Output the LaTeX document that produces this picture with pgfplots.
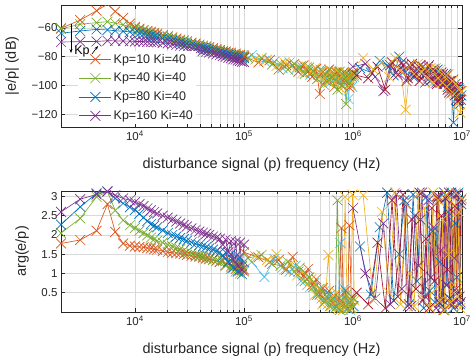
\documentclass[border=0pt]{standalone}
\usepackage{pgfplots}
\pgfplotsset{compat=1.18}
\usepackage{pgfplotstable}
\usepackage{fontspec}
\setmainfont{Liberation Sans}
\usetikzlibrary{arrows.meta}
\definecolor{mblue}{rgb}{0,0.447,0.741}
\definecolor{morange}{rgb}{0.85,0.325,0.098}
\definecolor{myellow}{rgb}{0.929,0.694,0.125}
\definecolor{mpurple}{rgb}{0.494,0.184,0.556}
\definecolor{mgreen}{rgb}{0.466,0.674,0.188}
\definecolor{mlblue}{rgb}{0.301,0.745,0.933}
\definecolor{mdred}{rgb}{0.635,0.078,0.184}

\pgfplotstableread{
f om op gm gp bm bp pm pp
2100 -60.2 1.78 -60.6 2.05 -63.7 2.27 -69.8 2.60
3150 -54.5 1.87 -57.4 2.43 -62.1 2.73 -69.5 2.93
4450 -48.0 2.11 -56.3 2.99 -61.0 3.08 -69.4 3.05
5600 -43.5 2.80 -55.6 3.12 -61.4 3.13 -68.9 3.13
6600 -48.5 2.08 -56.7 2.64 -61.9 2.95 -69.0 3.03
7800 -53.0 1.78 -57.8 2.38 -62.3 2.82 -69.1 2.95
9000 -57.0 1.72 -59.0 2.25 -62.7 2.72 -69.2 2.90
10000 -59.3 1.70 -60.2 2.18 -63.1 2.65 -69.4 2.85
11000 -60.5 1.69 -61.2 2.11 -63.7 2.55 -69.4 2.80
12000 -61.4 1.68 -62.1 2.05 -64.3 2.45 -69.5 2.75
13000 -62.1 1.66 -62.9 1.99 -64.9 2.36 -69.6 2.69
14000 -62.7 1.65 -63.5 1.93 -65.4 2.28 -69.7 2.64
15000 -63.3 1.63 -64.1 1.89 -65.9 2.24 -69.8 2.60
16000 -63.9 1.62 -64.7 1.85 -66.4 2.20 -70.0 2.56
18000 -64.9 1.58 -65.7 1.80 -67.3 2.12 -70.4 2.50
20000 -65.8 1.55 -66.6 1.75 -68.1 2.05 -70.8 2.45
22000 -66.6 1.54 -67.4 1.71 -68.8 2.00 -71.3 2.40
24000 -67.4 1.53 -68.2 1.67 -69.5 1.96 -71.8 2.35
26000 -68.1 1.52 -68.9 1.63 -70.1 1.92 -72.3 2.30
28000 -68.7 1.50 -69.5 1.60 -70.7 1.89 -72.8 2.26
30000 -69.3 1.48 -70.1 1.56 -71.2 1.85 -73.3 2.22
33000 -70.2 1.46 -71.0 1.52 -72.0 1.81 -74.0 2.17
36000 -70.9 1.44 -71.7 1.49 -72.7 1.77 -74.7 2.13
39000 -71.6 1.43 -72.4 1.46 -73.4 1.74 -75.3 2.09
42000 -72.3 1.41 -73.1 1.44 -74.0 1.71 -75.9 2.06
45000 -72.9 1.39 -73.7 1.41 -74.6 1.68 -76.5 2.03
48000 -73.4 1.37 -74.2 1.39 -75.1 1.65 -77.0 2.00
52000 -74.1 1.35 -74.9 1.36 -75.8 1.62 -77.7 1.96
56000 -74.8 1.33 -75.6 1.33 -76.4 1.58 -78.4 1.93
60000 -75.4 1.30 -76.2 1.30 -77.0 1.55 -79.0 1.90
64000 -76.3 1.34 -76.9 1.32 -77.7 1.45 -79.6 1.75
68000 -76.4 1.22 -77.1 1.20 -78.0 1.55 -80.0 1.88
72000 -77.3 1.30 -77.9 1.28 -78.7 1.30 -80.7 1.55
76000 -77.2 1.18 -78.0 1.12 -78.9 1.50 -81.0 1.84
80000 -78.4 1.27 -78.9 1.25 -79.7 1.15 -81.8 1.35
84000 -77.9 1.12 -78.8 1.05 -79.6 1.45 -82.0 1.82
88000 -79.2 1.24 -79.7 1.22 -80.5 1.05 -82.7 1.20
92000 -78.7 1.08 -79.6 1.00 -80.4 1.42 -82.9 1.80
96000 -79.9 1.20 -80.3 1.18 -81.2 0.98 -83.5 1.10
100000 -79.2 1.10 -80.4 1.05 -81.0 1.30 -83.6 1.75
}\lowtab

\pgfplotstableread{
of om op gf gm gp lf lm lp yf ym yp
1.00e5 -80 1.55 1.09e5 -81 1.40 1.18e5 -79 1.30 1.27e5 -82 1.45
1.36e5 -84 1.42 1.45e5 -81 1.48 1.54e5 -83 0.91 1.63e5 -82 1.35
1.72e5 -82.5 1.30 1.81e5 -85.5 1.25 1.90e5 -83.5 1.38 1.99e5 -86.5 1.50
2.08e5 -89 1.35 2.17e5 -85 1.20 2.26e5 -88 1.15 2.35e5 -84 1.10
2.44e5 -86 1.10 2.53e5 -89 1.30 2.62e5 -84 1.05 2.71e5 -87 1.25
2.80e5 -86 1.43 2.89e5 -85 1.05 2.98e5 -89 1.20 3.07e5 -87 0.95
3.16e5 -90.5 1.05 3.25e5 -87.5 1.15 3.34e5 -86.5 0.80 3.43e5 -91.5 1.05
3.52e5 -86 0.95 3.61e5 -92 0.80 3.70e5 -88 1.00 3.79e5 -87 0.70
3.88e5 -90.5 1.12 3.97e5 -87.5 0.90 4.06e5 -92.5 0.65 4.15e5 -90.5 0.85
4.24e5 -94 0.70 4.33e5 -90 0.65 4.42e5 -89 0.75 4.51e5 -88 0.45
4.60e5 -88.5 0.85 4.69e5 -95.5 0.45 4.78e5 -92.5 0.50 4.87e5 -94.5 0.60
4.96e5 -106 0.45 5.05e5 -89 0.60 5.14e5 -90 0.35 5.23e5 -90 0.20
5.32e5 -90.5 0.62 5.41e5 -99.5 0.25 5.50e5 -95.5 0.55 5.59e5 -93.5 0.35
5.68e5 -97 0.30 5.77e5 -91 0.40 5.86e5 -90 0.20 5.95e5 -98 1.48
6.04e5 -89 0.55 6.13e5 -96 0.15 6.22e5 -98 0.45 6.31e5 -90 0.15
6.40e5 -94.5 0.25 6.49e5 -90.5 0.35 6.58e5 -91.5 0.12 6.67e5 -91.5 0.30
6.76e5 -101 0.40 6.85e5 -96 0.10 6.94e5 -91 0.30 7.03e5 -97 0.50
7.12e5 -91 0.15 7.21e5 -103 2.90 7.30e5 -98 0.08 7.39e5 -91 0.10
7.48e5 -94.5 0.35 7.57e5 -90.5 0.05 7.66e5 -93.5 1.79 7.75e5 -102.5 0.25
7.84e5 -100 2.18 7.93e5 -100 0.30 8.02e5 -97 0.20 8.11e5 -94 0.05
8.20e5 -91 0.20 8.29e5 -93 0.12 8.38e5 -92 0.60 8.47e5 -91 2.99
8.56e5 -97 0.55 8.65e5 -113 0.45 8.74e5 -98 0.10 8.83e5 -96 0.20
8.92e5 -93.5 0.10 9.01e5 -92.5 0.08 9.10e5 -109.5 0.30 9.19e5 -93.5 0.35
9.28e5 -101.5 2.25 9.37e5 -98.5 0.25 9.46e5 -93.5 0.05 9.55e5 -99.5 0.10
9.64e5 -92 0.30 9.73e5 -94 0.10 9.82e5 -101 0.40 9.91e5 -91 3.05
1.00e6 -92 0.15 1.009e6 -91 0.35 1.018e6 -94 0.15 1.027e6 -93 0.30
}\midtab

\pgfplotstableread{
pf pm pp rf rm rp bf bm bp yf ym yp
1.00e6 -87 2.70 1.08e6 -93 0.50 1.16e6 -88 1.70 1.24e6 -81 3.03
1.30e6 -85 1.00 1.38e6 -95 0.20 1.46e6 -91 0.45 1.54e6 -89 0.30
1.60e6 -94 0.35 1.68e6 -87 1.80 1.76e6 -83 2.20 1.84e6 -84 2.60
1.90e6 -104 2.30 1.98e6 -103 0.10 2.06e6 -86 3.10 2.14e6 -94 0.50
2.20e6 -86 0.20 2.28e6 -84 2.90 2.36e6 -93 0.30 2.44e6 -81 3.10
2.50e6 -91 3.05 2.58e6 -93 0.40 2.66e6 -80 1.50 2.74e6 -90 0.20
2.80e6 -84 0.60 2.88e6 -86 3.05 2.96e6 -90 2.90 3.04e6 -117 2.80
3.10e6 -97 2.80 3.18e6 -95 0.15 3.26e6 -86 0.20 3.34e6 -86 1.00
3.40e6 -87 0.15 3.48e6 -85 2.40 3.56e6 -94 3.05 3.64e6 -92 0.15
3.70e6 -94 2.50 3.78e6 -92 0.60 3.86e6 -89 0.80 3.94e6 -85 3.05
4.00e6 -87 1.20 4.08e6 -97 3.10 4.16e6 -86 2.40 4.24e6 -91 0.40
4.30e6 -92 3.10 4.38e6 -87 0.30 4.46e6 -93 0.10 4.54e6 -88 2.70
4.60e6 -98 0.40 4.68e6 -92 1.90 4.76e6 -89 3.00 4.84e6 -95 1.80
4.90e6 -87 2.90 4.98e6 -86 0.10 5.06e6 -97 0.55 5.14e6 -88 0.10
5.20e6 -93 0.90 5.28e6 -96 2.70 5.36e6 -89 2.10 5.44e6 -98 3.10
5.50e6 -89 2.20 5.58e6 -90 0.80 5.66e6 -93 0.25 5.74e6 -88 0.60
5.80e6 -98 0.10 5.88e6 -99 3.00 5.96e6 -89 2.95 6.04e6 -95 2.90
6.10e6 -92 3.00 6.18e6 -93 0.25 6.26e6 -98 1.30 6.34e6 -89 0.30
6.40e6 -98 1.60 6.48e6 -91 2.50 6.56e6 -93 0.15 6.64e6 -98 2.40
6.70e6 -92 0.30 6.78e6 -99 0.05 6.86e6 -98 3.10 6.94e6 -94 0.05
7.00e6 -99 2.95 7.08e6 -94 2.95 7.16e6 -92 0.70 7.24e6 -101 3.05
7.30e6 -93 0.70 7.38e6 -103 1.10 7.46e6 -101 2.60 7.54e6 -92 1.50
7.60e6 -105 3.10 7.68e6 -97 0.35 7.76e6 -98 0.35 7.84e6 -106 0.25
7.90e6 -97 0.20 7.98e6 -102 3.10 8.06e6 -105 3.05 8.14e6 -97 2.85
8.20e6 -105 2.60 8.28e6 -96 0.20 8.36e6 -126 0.10 8.44e6 -106 0.70
8.50e6 -101 1.40 8.58e6 -107 2.75 8.66e6 -99 2.30 8.74e6 -99 3.10
8.80e6 -110 3.05 8.88e6 -101 0.60 8.96e6 -106 0.90 9.04e6 -113 0.40
9.10e6 -101 0.50 9.18e6 -111 3.05 9.26e6 -102 3.10 9.34e6 -103 2.60
9.40e6 -110 2.85 9.48e6 -103 0.40 9.56e6 -113 0.20 9.64e6 -119 0.10
9.70e6 -104 0.25 9.78e6 -110 2.90 9.86e6 -107 2.80 9.94e6 -104 2.95
}\hightab

\begin{document}
\begin{tikzpicture}
\path[use as bounding box] (0pt,0pt) rectangle (473pt,359pt);

\begin{semilogxaxis}[
  width=401pt, height=122pt, scale only axis,
  at={(61pt,232pt)}, anchor=south west,
  xmin=2100, xmax=1e7,
  xtick={1e4,1e5,1e6,1e7},
  xticklabels={10\textsuperscript{4},10\textsuperscript{5},10\textsuperscript{6},10\textsuperscript{7}},
  grid=both,
  major grid style={draw=black!15, line width=0.5pt},
  minor grid style={draw=black!15, line width=0.5pt},
  axis line style={draw=black!85, line width=0.5pt},
  tick style={draw=black!85, line width=0.5pt},
  tick align=inside,
  major tick length=4pt, minor tick length=2.5pt,
  ticklabel style={font=\fontsize{11.5}{13}\selectfont, text=black!85},
  xlabel={disturbance signal (p) frequency (Hz)},
  xlabel style={font=\fontsize{14.5}{16}\selectfont, text=black!85, at={(axis description cs:0.5,-0.311)}, anchor=center},
  ymin=-129, ymax=-44,
  ytick={-120,-100,-80,-60}, yticklabels={−120,−100,−80,−60},
  ylabel={|e/p| (dB)},
  ylabel style={font=\fontsize{14.5}{16}\selectfont, text=black!85, at={(axis description cs:-0.122,0.5)}, anchor=center},
  legend style={at={(axis description cs:0.042,0.625)}, anchor=north west, draw=none, fill=white,
    font=\fontsize{12.5}{14}\selectfont, text=black!85, inner sep=1pt, row sep=4.3pt},
  legend cell align=left,
  legend image code/.code={\draw[mark repeat=2,mark phase=2,#1] plot coordinates {(0pt,0pt) (16pt,0pt) (32pt,0pt)};},
  every axis plot/.append style={line width=0.65pt, mark=x, mark size=7pt, mark options={solid}},
]
\addplot[color=morange] table[x=f, y=om] {\lowtab};
\addplot[color=mgreen] table[x=f, y=gm] {\lowtab};
\addplot[color=mblue] table[x=f, y=bm] {\lowtab};
\addplot[color=mpurple] table[x=f, y=pm] {\lowtab};
\legend{Kp=10 Ki=40, Kp=40 Ki=40, Kp=80 Ki=40, Kp=160 Ki=40}
\addplot[color=mlblue, forget plot] table[x=lf, y=lm] {\midtab};
\addplot[color=morange, forget plot] table[x=of, y=om] {\midtab};
\addplot[color=myellow, forget plot] table[x=yf, y=ym] {\midtab};
\addplot[color=mgreen, forget plot] table[x=gf, y=gm] {\midtab};
\addplot[color=mblue, forget plot] table[x=bf, y=bm] {\hightab};
\addplot[color=mpurple, forget plot] table[x=pf, y=pm] {\hightab};
\addplot[color=mdred, forget plot] table[x=rf, y=rm] {\hightab};
\addplot[color=myellow, forget plot] table[x=yf, y=ym] {\hightab};
\end{semilogxaxis}

\begin{semilogxaxis}[
  width=401pt, height=121pt, scale only axis,
  at={(61pt,47pt)}, anchor=south west,
  xmin=2100, xmax=1e7,
  xtick={1e4,1e5,1e6,1e7},
  xticklabels={10\textsuperscript{4},10\textsuperscript{5},10\textsuperscript{6},10\textsuperscript{7}},
  grid=both,
  major grid style={draw=black!15, line width=0.5pt},
  minor grid style={draw=black!15, line width=0.5pt},
  axis line style={draw=black!85, line width=0.5pt},
  tick style={draw=black!85, line width=0.5pt},
  tick align=inside,
  major tick length=4pt, minor tick length=2.5pt,
  ticklabel style={font=\fontsize{11.5}{13}\selectfont, text=black!85},
  xlabel={disturbance signal (p) frequency (Hz)},
  xlabel style={font=\fontsize{14.5}{16}\selectfont, text=black!85, at={(axis description cs:0.5,-0.311)}, anchor=center},
  ymin=0, ymax=3.1416,
  ytick={0.5,1,1.5,2,2.5,3}, yticklabels={0.5,1,1.5,2,2.5,3},
  ylabel={arg(e/p)},
  ylabel style={font=\fontsize{14.5}{16}\selectfont, text=black!85, at={(axis description cs:-0.097,0.5)}, anchor=center},
  every axis plot/.append style={line width=0.65pt, mark=x, mark size=7pt, mark options={solid}},
]
\addplot[color=morange] table[x=f, y=op] {\lowtab};
\addplot[color=mgreen] table[x=f, y=gp] {\lowtab};
\addplot[color=mblue] table[x=f, y=bp] {\lowtab};
\addplot[color=mpurple] table[x=f, y=pp] {\lowtab};
\addplot[color=mlblue] table[x=lf, y=lp] {\midtab};
\addplot[color=morange] table[x=of, y=op] {\midtab};
\addplot[color=myellow] table[x=yf, y=yp] {\midtab};
\addplot[color=mgreen] table[x=gf, y=gp] {\midtab};
\addplot[color=mblue] table[x=bf, y=bp] {\hightab};
\addplot[color=mpurple] table[x=pf, y=pp] {\hightab};
\addplot[color=mdred] table[x=rf, y=rp] {\hightab};
\addplot[color=myellow] table[x=yf, y=yp] {\hightab};
\end{semilogxaxis}

\draw[-{Stealth[length=4pt,width=3pt]}, black, line width=0.6pt] (71pt,335pt) -- (71pt,306pt);
\node[font=\fontsize{12.5}{14}\selectfont, text=black, inner sep=0pt] at (82pt,308pt) {Kp};
\draw[-{Stealth[length=4pt,width=3pt]}, black, line width=0.6pt] (92pt,305pt) -- (98pt,313pt);
\end{tikzpicture}
\end{document}
